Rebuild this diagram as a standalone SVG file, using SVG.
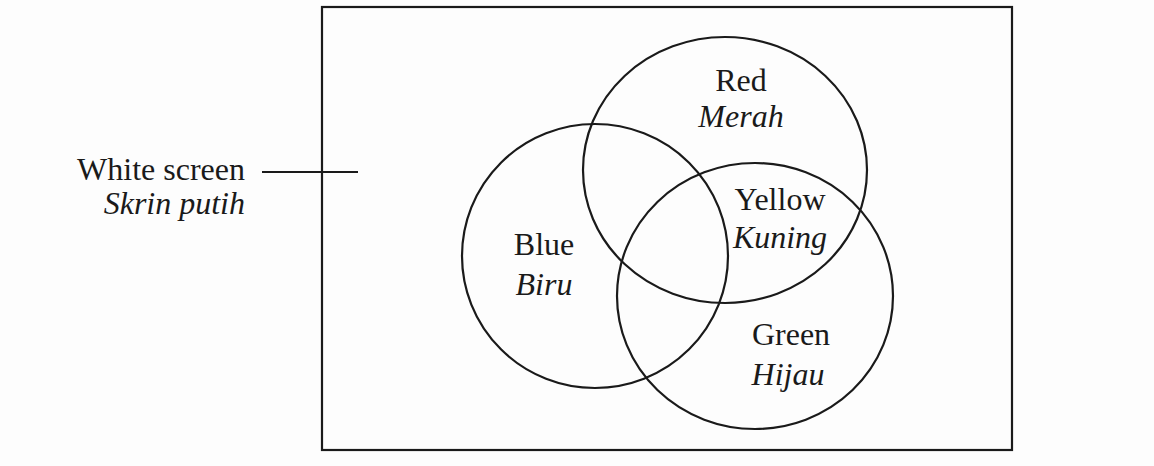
<svg xmlns="http://www.w3.org/2000/svg" width="1154" height="466" viewBox="0 0 1154 466">
<style>
.ln{fill:none;stroke:#1a1a1a;stroke-width:2.2}
.t{font-family:"Liberation Serif",serif;font-size:32px;fill:#1a1a1a;text-anchor:middle}
.i{font-style:italic}
.e{text-anchor:end}
</style>
<rect width="1154" height="466" fill="#fdfdfd"/>
<g id="screen">
<rect class="ln" x="322" y="7" width="690" height="443"/>
</g>
<g id="red">
<ellipse class="ln" cx="725" cy="170" rx="142" ry="133"/>
<text class="t" x="741" y="91">Red</text>
<text class="t i" x="741" y="127">Merah</text>
</g>
<g id="blue">
<ellipse class="ln" cx="595" cy="256" rx="133" ry="132"/>
<text class="t" x="544" y="255">Blue</text>
<text class="t i" x="544" y="295">Biru</text>
</g>
<g id="green">
<ellipse class="ln" cx="755" cy="296" rx="138" ry="133"/>
<text class="t" x="791" y="345">Green</text>
<text class="t i" x="788" y="385">Hijau</text>
</g>
<g id="yellow">
<text class="t" x="780" y="210">Yellow</text>
<text class="t i" x="780" y="248">Kuning</text>
</g>
<g id="label">
<text class="t e" x="245" y="180">White screen</text>
<text class="t i e" x="245" y="214">Skrin putih</text>
</g>
<g id="connectors">
<line class="ln" x1="262" y1="172" x2="358" y2="172" stroke-width="3"/>
</g>
</svg>
